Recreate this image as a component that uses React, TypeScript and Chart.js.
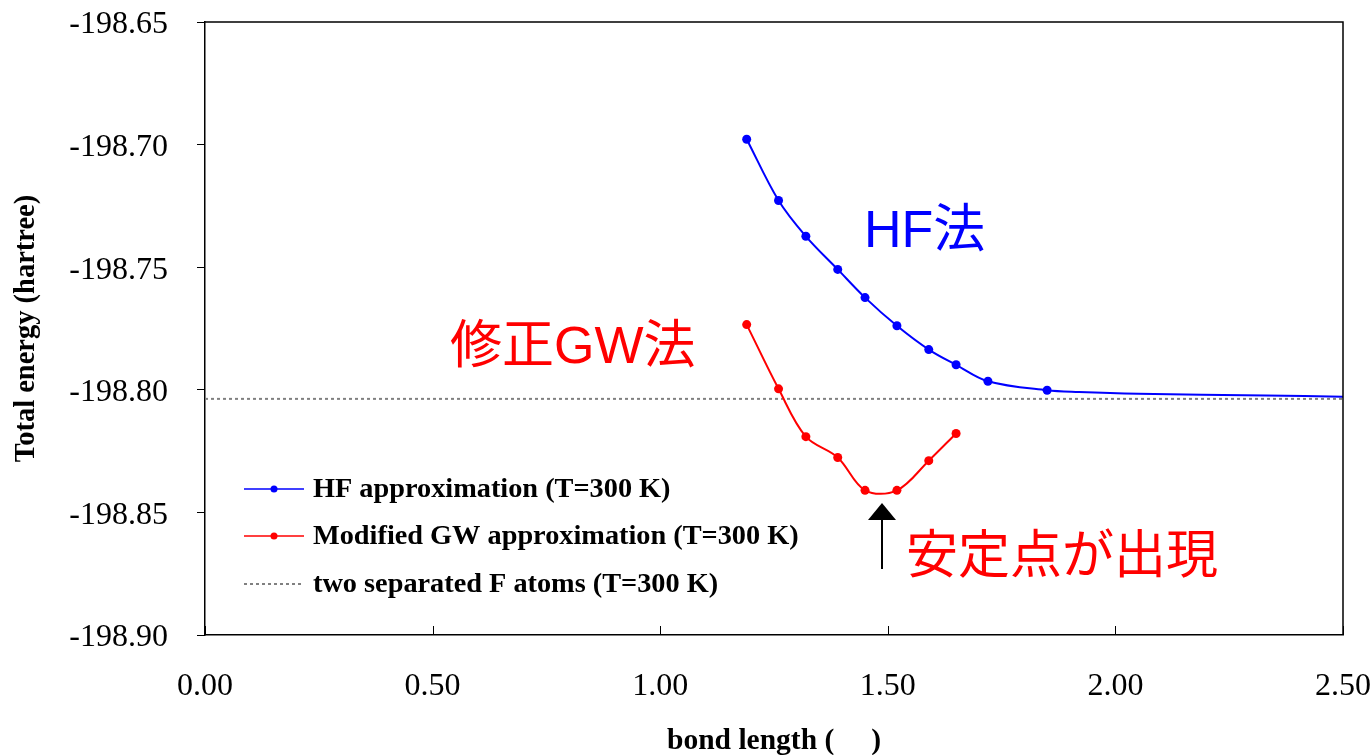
import React, { useEffect, useRef } from "react";
import { Chart, registerables } from "chart.js";

Chart.register(...registerables);

// ---- Data ----
const bondLengthHF = [1.19, 1.26, 1.32, 1.39, 1.45, 1.52, 1.59, 1.65, 1.72, 1.85, 1.92, 2.05, 2.33, 2.5];
const energyHF = [
  -198.6978, -198.7228, -198.7374, -198.7509, -198.7624, -198.7739, -198.7836,
  -198.7898, -198.7965, -198.8002, -198.8009, -198.8016, -198.8023, -198.8028,
];
const hfMarkerVisible = [true, true, true, true, true, true, true, true, true, true, false, false, false, false];

const bondLengthGW = [1.19, 1.26, 1.32, 1.39, 1.45, 1.52, 1.59, 1.65];
const energyGW = [-198.7734, -198.7996, -198.8191, -198.8276, -198.841, -198.841, -198.8289, -198.8178];

const separatedX = [0, 2.5];
const separatedEnergy = [-198.8037, -198.8037];

const xMin = 0;
const xMax = 2.5;
const xStep = 0.5;
const yMin = -198.9;
const yMax = -198.65;
const yStep = 0.05;

const seriesLabels = [
  "HF approximation (T=300 K)",
  "Modified GW approximation (T=300 K)",
  "two separated F atoms (T=300 K)",
];
const xTitle = "bond length (     )";
const yTitle = "Total energy (hartree)";
const noteHF = "HF法";
const noteGW = "修正GW法";
const noteStable = "安定点が出現";

const BLUE = "#0000ff";
const RED = "#ff0000";
const GRAY = "#808080";
const SERIF = "'Liberation Serif', 'Times New Roman', serif";
const SANS = "'Liberation Sans', 'Noto Sans CJK JP', sans-serif";

const zeroPad = (s: any) => {
  s.paddingTop = 0;
  s.paddingBottom = 0;
  s.paddingLeft = 0;
  s.paddingRight = 0;
};

const decorPlugin = {
  id: "decor",
  afterDraw(chart: any) {
    const { ctx, chartArea: a, scales } = chart;
    const xs = scales.x;
    ctx.save();
    // frame (top & right)
    ctx.strokeStyle = "#000";
    ctx.lineWidth = 1.5;
    ctx.beginPath();
    ctx.moveTo(a.left, a.top);
    ctx.lineTo(a.right, a.top);
    ctx.lineTo(a.right, a.bottom);
    ctx.stroke();
    // inner x tick marks
    ctx.lineWidth = 1;
    xs.ticks.forEach((t: any) => {
      const px = Math.round(xs.getPixelForValue(t.value)) + 0.5;
      ctx.beginPath();
      ctx.moveTo(px, a.bottom);
      ctx.lineTo(px, a.bottom - 9);
      ctx.stroke();
    });

    // legend
    const rows = [
      { color: BLUE, marker: true, dash: [] as number[] },
      { color: RED, marker: true, dash: [] as number[] },
      { color: GRAY, marker: false, dash: [3, 3] },
    ];
    const lx0 = 244;
    const lx1 = 304;
    const tx = 313;
    const ys = [489, 536, 584];
    ctx.font = `bold 28.3px ${SERIF}`;
    ctx.textBaseline = "middle";
    ctx.textAlign = "left";
    rows.forEach((r, i) => {
      const y = ys[i];
      ctx.strokeStyle = r.color;
      ctx.lineWidth = r.marker ? 1.5 : 2;
      ctx.setLineDash(r.dash);
      ctx.beginPath();
      ctx.moveTo(lx0, y);
      ctx.lineTo(lx1, y);
      ctx.stroke();
      ctx.setLineDash([]);
      if (r.marker) {
        ctx.fillStyle = r.color;
        ctx.beginPath();
        ctx.arc((lx0 + lx1) / 2, y, 3.5, 0, Math.PI * 2);
        ctx.fill();
      }
      ctx.fillStyle = "#000";
      ctx.fillText(seriesLabels[i], tx, y + 1);
    });

    // annotations
    ctx.font = `52px ${SANS}`;
    ctx.textBaseline = "middle";
    ctx.fillStyle = BLUE;
    ctx.fillText(noteHF, 864, 233);
    ctx.fillStyle = RED;
    ctx.fillText(noteGW, 450, 349);
    ctx.fillText(noteStable, 906, 559);

    // arrow
    ctx.strokeStyle = "#000";
    ctx.fillStyle = "#000";
    ctx.lineWidth = 2;
    ctx.beginPath();
    ctx.moveTo(882, 569);
    ctx.lineTo(882, 518);
    ctx.stroke();
    ctx.beginPath();
    ctx.moveTo(882, 503);
    ctx.lineTo(896, 520);
    ctx.lineTo(868, 520);
    ctx.closePath();
    ctx.fill();
    ctx.restore();
  },
};

export default function App() {
  const ref = useRef<HTMLCanvasElement>(null);

  useEffect(() => {
    if (!ref.current) return;
    const chart = new Chart(ref.current, {
      type: "line",
      data: {
        datasets: [
          {
            label: seriesLabels[2],
            data: separatedX.map((x, i) => ({ x, y: separatedEnergy[i] })),
            borderColor: GRAY,
            borderWidth: 2,
            borderDash: [3, 3],
            pointRadius: 0,
            tension: 0,
            order: 3,
          },
          {
            label: seriesLabels[0],
            data: bondLengthHF.map((x, i) => ({ x, y: energyHF[i] })),
            borderColor: BLUE,
            backgroundColor: BLUE,
            borderWidth: 2,
            pointRadius: hfMarkerVisible.map((v) => (v ? 4.5 : 0)),
            pointBorderWidth: 0,
            pointHoverRadius: 0,
            tension: 0.35,
            order: 2,
          },
          {
            label: seriesLabels[1],
            data: bondLengthGW.map((x, i) => ({ x, y: energyGW[i] })),
            borderColor: RED,
            backgroundColor: RED,
            borderWidth: 2,
            pointRadius: 4.5,
            pointBorderWidth: 0,
            pointHoverRadius: 0,
            tension: 0.35,
            order: 1,
          },
        ],
      },
      options: {
        animation: false,
        responsive: false,
        events: [],
        layout: { padding: { top: 22, right: 28, left: 0, bottom: 0 } },
        plugins: {
          legend: { display: false },
          tooltip: { enabled: false },
        },
        scales: {
          x: {
            type: "linear",
            min: xMin,
            max: xMax,
            afterFit: (s: any) => {
              s.height = 120;
              zeroPad(s);
            },
            ticks: {
              stepSize: xStep,
              color: "#000",
              font: { family: SERIF, size: 32 },
              padding: 32,
              maxRotation: 0,
              callback: (v: any) => Number(v).toFixed(2),
            },
            grid: { display: false, drawTicks: false },
            border: { display: true, color: "#000", width: 1.5 },
            title: {
              display: true,
              text: xTitle,
              color: "#000",
              font: { family: SERIF, size: 29.5, weight: "bold" },
              padding: { top: 0, bottom: -4 },
            },
          },
          y: {
            type: "linear",
            min: yMin,
            max: yMax,
            afterFit: (s: any) => {
              s.width = 205;
              zeroPad(s);
            },
            ticks: {
              stepSize: yStep,
              color: "#000",
              font: { family: SERIF, size: 32 },
              padding: 29,
              labelOffset: 3,
              callback: (v: any) => Number(v).toFixed(2),
            },
            grid: {
              display: true,
              drawOnChartArea: false,
              drawTicks: true,
              tickLength: 8,
              color: "#000",
              lineWidth: 1,
            },
            border: { display: true, color: "#000", width: 1.5 },
            title: {
              display: true,
              text: yTitle,
              color: "#000",
              font: { family: SERIF, size: 28.5, weight: "bold" },
              padding: { top: 10, bottom: 0 },
            },
          },
        },
      },
      plugins: [decorPlugin],
    });
    return () => chart.destroy();
  }, []);

  return (
    <div style={{ position: "absolute", left: 0, top: 0, width: 1371, height: 755, background: "#fff" }}>
      <canvas ref={ref} width={1371} height={755} style={{ display: "block" }} />
    </div>
  );
}
